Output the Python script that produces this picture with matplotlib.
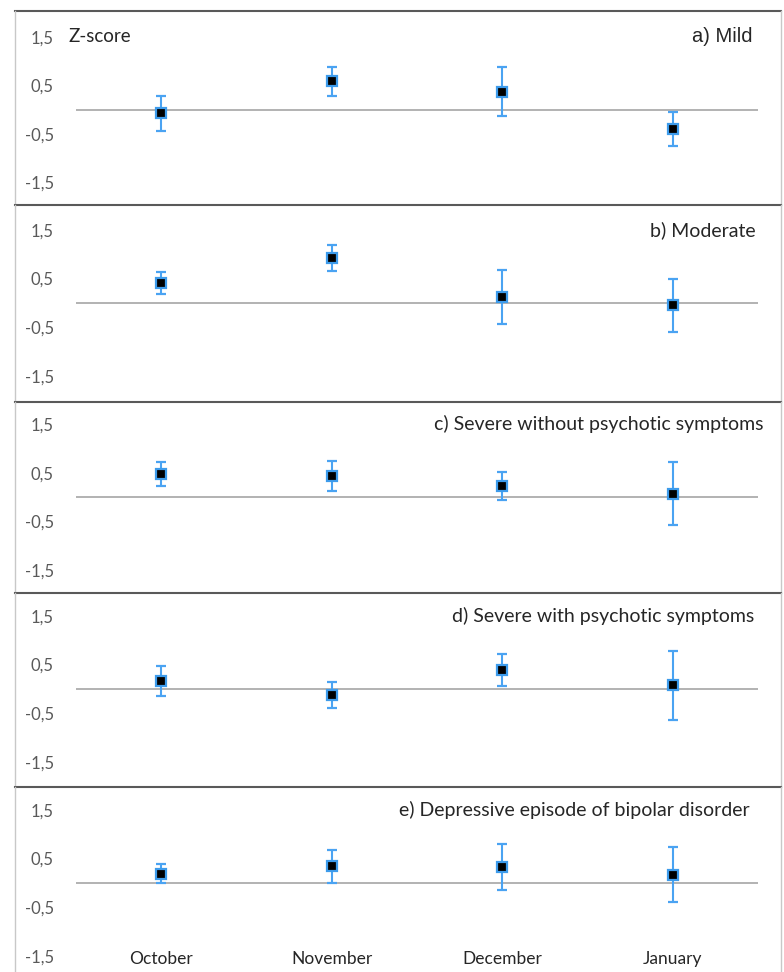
import matplotlib

matplotlib.use("Agg")
import matplotlib.pyplot as plt
from matplotlib.lines import Line2D

months = ["October", "November", "December", "January"]

mild_mean = [-0.08, 0.58, 0.37, -0.40]
mild_err = [0.36, 0.29, 0.50, 0.35]
moderate_mean = [0.41, 0.92, 0.12, -0.05]
moderate_err = [0.22, 0.27, 0.55, 0.54]
severe_mean = [0.48, 0.44, 0.23, 0.07]
severe_err = [0.24, 0.31, 0.28, 0.65]
psychotic_mean = [0.17, -0.12, 0.38, 0.07]
psychotic_err = [0.31, 0.27, 0.33, 0.72]
bipolar_mean = [0.19, 0.34, 0.33, 0.17]
bipolar_err = [0.20, 0.34, 0.47, 0.57]

panel_titles = [
    "a) Mild",
    "b) Moderate",
    "c) Severe without psychotic symptoms",
    "d) Severe with psychotic symptoms",
    "e) Depressive episode of bipolar disorder",
]
y_ticks = [1.5, 0.5, -0.5, -1.5]
y_tick_labels = ["1,5", "0,5", "-0,5", "-1,5"]

plt.rcParams["font.family"] = ["Lato", "DejaVu Sans"]

W, H = 784, 972
fig = plt.figure(figsize=(W / 100, H / 100), dpi=100)


def fx(px):
    return px / W


def fy(py):
    return 1 - py / H


panel_top = [11, 205.5, 401.5, 592.5, 787]
row_15 = [36.7, 230, 424.3, 616, 810]  # pixel row of the 1,5 tick
axes_bottom = [205.5, 401.5, 592.5, 787, 958]
unit = 48.6
left, right = 76, 758
frame_left, frame_right = 15, 781

means = [mild_mean, moderate_mean, severe_mean, psychotic_mean, bipolar_mean]
errs = [mild_err, moderate_err, severe_err, psychotic_err, bipolar_err]
title_right = [752, 756, 764, 754, 750]

for i in range(5):
    top, bot = panel_top[i], axes_bottom[i]
    ax = fig.add_axes([fx(left), fy(bot), (right - left) / W, (bot - top) / H])
    ax.set_ylim(1.5 - (bot - row_15[i]) / unit, 1.5 + (row_15[i] - top) / unit)
    ax.set_xlim(-0.5, 3.5)
    for s in ax.spines.values():
        s.set_visible(False)
    ax.patch.set_alpha(0)
    ax.axhline(0, color="#A6A6A6", lw=1.2, zorder=1)
    ax.errorbar(
        range(len(months)),
        means[i],
        yerr=errs[i],
        fmt="s",
        color="#3D9BEB",
        ecolor="#4AA3F2",
        elinewidth=1.5,
        capsize=3.5,
        capthick=1.5,
        markersize=7.5,
        markerfacecolor="black",
        markeredgecolor="#3D9BEB",
        markeredgewidth=1.6,
        zorder=3,
    )
    ax.set_yticks(y_ticks)
    ax.set_yticklabels(y_tick_labels)
    ax.tick_params(axis="y", length=0, pad=16, labelsize=12, labelcolor="#595959")
    if i == 4:
        ax.set_xticks(range(len(months)))
        ax.set_xticklabels(months)
        ax.tick_params(axis="x", length=0, pad=-5, labelsize=12.5, labelcolor="#262626")
    else:
        ax.set_xticks([])

    fam = ["Liberation Sans", "DejaVu Sans"] if i == 0 else None
    fig.text(
        fx(title_right[i]), fy(row_15[i]), panel_titles[i],
        ha="right", va="center", fontsize=14 if i else 14.5,
        color="#262626", family=fam,
    )

    # panel frame
    fig.add_artist(Line2D([fx(frame_left), fx(frame_right)], [fy(top), fy(top)],
                          color="#595959", lw=1.5))
    side_bot = H if i == 4 else panel_top[i + 1]
    for xx in (frame_left, frame_right):
        fig.add_artist(Line2D([fx(xx), fx(xx)], [fy(top), fy(side_bot)],
                              color="#C8C8C8", lw=1.0))

fig.text(fx(68), fy(row_15[0]), "Z-score", ha="left", va="center",
         fontsize=13.5, color="#262626")

fig.savefig("out.png", dpi=100)
